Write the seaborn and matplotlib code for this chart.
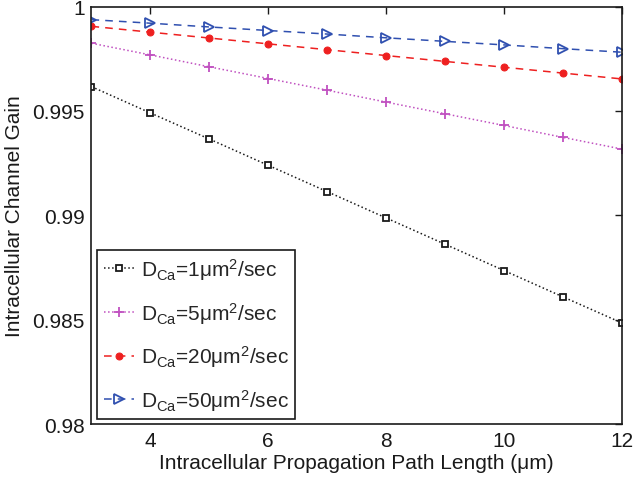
import matplotlib
matplotlib.use("Agg")
import matplotlib.pyplot as plt
import seaborn as sns
import pandas as pd

# Path length (um)
path_length = [3, 4, 5, 6, 7, 8, 9, 10, 11, 12]

# Channel gain for each Ca2+ diffusion coefficient
gain_d1 = [0.99616, 0.99490, 0.99365, 0.99239, 0.99113, 0.98987, 0.98861, 0.98735, 0.98609, 0.98484]
gain_d5 = [0.99824, 0.99768, 0.99711, 0.99655, 0.99599, 0.99542, 0.99486, 0.99430, 0.99373, 0.99317]
gain_d20 = [0.99905, 0.99877, 0.99849, 0.99821, 0.99793, 0.99765, 0.99737, 0.99709, 0.99681, 0.99653]
gain_d50 = [0.99937, 0.99920, 0.99902, 0.99885, 0.99868, 0.99850, 0.99833, 0.99816, 0.99798, 0.99781]

series_labels = [
    r"D$_{\mathrm{Ca}}$=1μm$^{2}$/sec",
    r"D$_{\mathrm{Ca}}$=5μm$^{2}$/sec",
    r"D$_{\mathrm{Ca}}$=20μm$^{2}$/sec",
    r"D$_{\mathrm{Ca}}$=50μm$^{2}$/sec",
]

x_ticks = [4, 6, 8, 10, 12]
x_tick_labels = ["4", "6", "8", "10", "12"]
y_ticks = [0.98, 0.985, 0.99, 0.995, 1.0]
y_tick_labels = ["0.98", "0.985", "0.99", "0.995", "1"]

sns.set_style("white")
plt.rcParams["font.family"] = ["Liberation Sans", "DejaVu Sans"]
plt.rcParams["mathtext.fontset"] = "custom"
plt.rcParams["mathtext.rm"] = "Liberation Sans"
plt.rcParams["mathtext.it"] = "Liberation Sans:italic"
plt.rcParams["mathtext.bf"] = "Liberation Sans:bold"

fig = plt.figure(figsize=(6.34, 4.81), dpi=100)
ax = fig.add_axes([0.1443, 0.1164, 0.8367, 0.868])

styles = [
    dict(color="#1a1a1a", linestyle=":", marker="s", markersize=5,
         markerfacecolor="white", markeredgecolor="#1a1a1a", markeredgewidth=1.3),
    dict(color="#c050c0", linestyle=":", marker="+", markersize=7,
         markeredgecolor="#c050c0", markeredgewidth=1.3),
    dict(color="#ee2020", linestyle=(0, (5, 4)), marker="o", markersize=5,
         markerfacecolor="#ee2020", markeredgecolor="#ee2020"),
    dict(color="#3050b0", linestyle=(0, (5, 4)), marker=">", markersize=7,
         markerfacecolor="none", markeredgecolor="#3050b0", markeredgewidth=1.3),
]

all_gains = [gain_d1, gain_d5, gain_d20, gain_d50]
for gains, label, st in zip(all_gains, series_labels, styles):
    df = pd.DataFrame({"length": path_length, "gain": gains})
    sns.lineplot(data=df, x="length", y="gain", ax=ax, label=label,
                 linewidth=1.1, **st)

ax.set_xlim(3, 12)
ax.set_ylim(0.98, 1.0)
ax.set_xticks(x_ticks)
ax.set_xticklabels(x_tick_labels)
ax.set_yticks(y_ticks)
ax.set_yticklabels(y_tick_labels)

ax.tick_params(axis="both", direction="in", length=5, width=1,
               top=True, right=True, labelsize=15, pad=5, colors="#1a1a1a")
for sp in ax.spines.values():
    sp.set_visible(True)
    sp.set_color("#1a1a1a")
    sp.set_linewidth(1.2)

ax.set_xlabel("Intracellular Propagation Path Length (μm)", fontsize=15,
              color="#1a1a1a", labelpad=2)
ax.set_ylabel("Intracellular Channel Gain", fontsize=15, color="#1a1a1a",
              labelpad=6)

leg = ax.legend(loc="lower left", bbox_to_anchor=(0.011, 0.012),
                borderaxespad=0, fontsize=15, frameon=True, fancybox=False,
                framealpha=1, edgecolor="#1a1a1a", handlelength=1.45,
                handletextpad=0.35, labelspacing=0.85, borderpad=0.3)
leg.get_frame().set_linewidth(1.2)

fig.savefig("out.png", dpi=100)
